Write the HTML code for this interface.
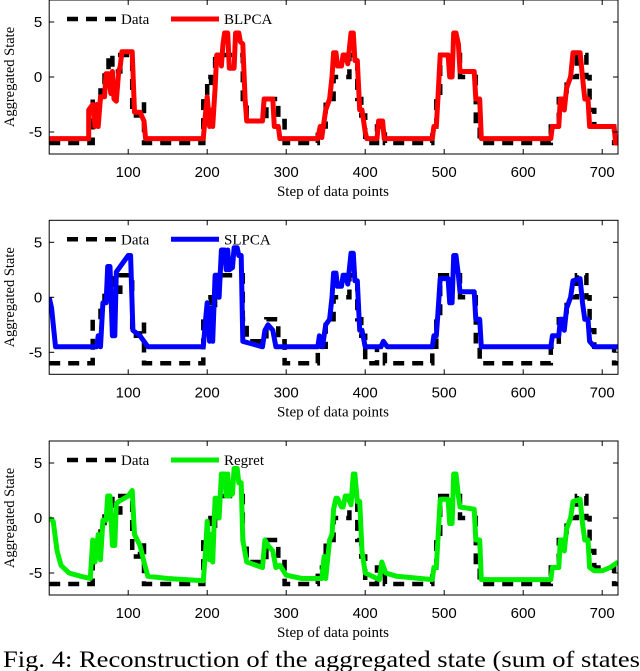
<!DOCTYPE html>
<html><head><meta charset="utf-8">
<style>
html,body{margin:0;padding:0;background:#fff;width:640px;height:671px;overflow:hidden}
svg{display:block}
</style></head>
<body>
<svg id="fig" width="640" height="671" viewBox="0 0 640 671" xmlns="http://www.w3.org/2000/svg">
<text x="3" y="667" font-family="Liberation Serif, serif" font-size="23" textLength="637" lengthAdjust="spacingAndGlyphs">Fig. 4: Reconstruction of the aggregated state (sum of states</text>
</svg>
<script>
// Shared ground-truth data series
const dataX = [0,55,55,65,65,70,70,75,75,80,80,90,90,105,105,115,115,120,120,195,195,200,200,205,205,210,210,245,245,250,250,275,275,290,290,298,298,340,340,350,350,360,360,380,380,390,390,395,395,400,400,415,415,425,425,485,485,490,490,495,495,520,520,540,540,545,545,635,635,645,645,655,655,668,668,680,680,684,684,690,690,715,715,720];
const dataY = [-6,-6,-2,-2,-1,-1,0.5,0.5,2,2,0.5,0.5,2,2,-3.5,-3.5,-2.5,-2.5,-6,-6,-2,-2,0,0,-1,-1,2,2,-2,-2,-4,-4,-2,-2,-4,-4,-6,-6,-4.5,-4.5,-2,-2,0,0,2,2,-2,-2,-3.5,-3.5,-6,-6,-4.5,-4.5,-6,-6,-4.5,-4.5,-2,-2,2,2,0,0,-4,-4,-6,-6,-4.5,-4.5,-2,-2,0,0,2,2,0,0,-3,-3,-4.5,-4.5,-6,-6];

// BLPCA
const blX = [0,50,50,55,58,60,62,65,70,72, 75,78,80,82,85,88,90,92,105,108, 115,120,122,195,197,200,203,205,207,210, 212,215,218,220,222,226,228,234,236,240, 242,245,248,250,270,272,283,285,290,292, 340,343,345,347,350,355,358,360,363,365, 370,372,375,378,382,385,387,390,393,396, 400,402,415,417,422,424,485,487,490,492, 495,505,507,510,512,515,518,520,538,540, 545,547,635,637,645,647,650,652,655,660, 663,672,675,678,682,684,715,717,720];
const blY = [-5.6,-5.6,-3,-2.5,-4.5,-2.5,-4.5,-1.8,-1.8,0.3, 0.3,-1.5,0.5,-2,-2.2,0.5,1,2.3,2.3,-3.2, -3.2,-4,-5.6,-5.6,-4,-1.8,-4.5,-3,-4.5,-1, 2,2,1,3,4,4,0.8,0.8,4,4, 3.2,3,-2,-4,-4,-2,-2,-4.5,-4.5,-5.6, -5.6,-4.5,-5.5,-4.5,-3,-2,0,2.2,2.2,1, 1,2,2,1.2,4,4,1.5,1.5,-3,-3, -5,-5.6,-5.6,-4,-4,-5.6,-5.6,-4.5,-4.5,-2, 2,2,0,0,4,4,3,0.5,0.5,-2, -2,-5.6,-5.6,-4.5,-4.5,-2,-2,-3,-1,0, 2.2,2.2,0,-2,-2,-4.5,-4.5,-6,-6];

// SLPCA
const slX = [0,3,8,60,62,65,68,72,74,77, 80,83,85,100,103,106,115,120,125,195, 198,200,203,205,207,210,213,215,218,222, 224,226,228,232,234,238,240,243,245,270, 273,277,283,287,340,342,346,350,355,358, 360,363,365,370,372,375,378,382,385,387, 390,393,396,400,420,423,428,485,487,490, 492,495,505,507,510,512,515,518,520,538, 540,545,547,635,637,645,647,650,652,655, 660,663,672,675,678,682,684,690,700,720];
const slY = [0,-1,-4.5,-4.5,-3.5,-4.5,-0.5,-0.5,2.8,2.8, -3.5,-3.5,2.3,3.8,3.8,-3,-3.5,-4,-4.5,-4.5, -2,-0.5,-4,-1,-4,2,2,0,4.3,4.3, 2.5,4.3,2.5,2.7,4.5,4.5,3.8,3.8,-4,-4.5, -3,-2.5,-3,-4.5,-4.5,-3.5,-4.5,-2.5,-2,0, 2.2,2.2,1,1,2,2,1.2,4,4,1.5, 1.5,-3,-3,-4.5,-4.5,-4,-4.5,-4.5,-3.5,-3.5, -1.5,1.7,1.7,-0.5,-0.5,3.8,3.8,2,0.5,0.5, -2,-2,-4.5,-4.5,-3.5,-3.5,-2,-2,-3,-1, 0,1.5,1.7,-0.5,-2,-2,-4,-4.5,-4.5,-4.5];

// Regret
const rgX = [0,5,10,15,25,40,52,55,58,62, 65,68,72,74,77,80,83,85,88,100, 105,108,115,120,125,150,195,198,200,203, 205,207,210,213,215,218,222,224,226,228, 232,234,238,240,243,245,250,270,273,277, 283,287,292,300,320,345,348,350,355,358, 360,363,365,370,372,375,378,382,385,387, 390,393,396,400,418,421,426,440,485,487, 490,492,495,505,507,510,512,515,518,520, 538,540,545,547,635,637,645,647,650,652, 655,660,663,672,675,678,682,684,690,700, 710,720];
const rgY = [0,-0.3,-3,-4.3,-5,-5.3,-5.5,-2,-4,-1.5, -3.8,-0.2,-0.2,2,2,-2.5,-2.5,1.3,1.5,2, 2.5,-1.5,-2.5,-4,-5.3,-5.5,-5.7,-3,-0.3,-3.8, -1.5,-4,1.8,1.8,0,4,4,2,4,2, 2.2,4.5,4.5,3.2,3.2,-2,-4,-4.5,-2,-2.5, -3,-4.5,-4.3,-5.2,-5.5,-5.5,-3.5,-5.5,-2,-1.5, 0.8,1.8,1.8,1,1,2,2,1.2,4,4, 1.5,1.5,-3,-5,-5.6,-4,-5,-5.3,-5.6,-4.5, -4.5,-2,1.7,1.7,-0.5,-0.5,4,4,2,1, 0.8,-2,-2,-5.6,-5.6,-4.5,-4.5,-2,-2,-3, -1,0,1.5,1.7,-0.5,-2,-2,-4.5,-4.8,-4.8, -4.5,-4];

const xTicks = [100,200,300,400,500,600,700];
const yTicks = [-5,0,5];
const xDomain = [0,720];
const yDomain = [-7,7];

const svg = document.getElementById('fig');
const NS = 'http://www.w3.org/2000/svg';
const L = 49.2, R = 618, H = 154;
function xs(v){ return L + (v - xDomain[0]) / (xDomain[1]-xDomain[0]) * (R - L); }
function mk(tag, attrs){ const e = document.createElementNS(NS, tag); for (const k in attrs) e.setAttribute(k, attrs[k]); return e; }
function pts(X, Y, ys){ const n = Math.min(X.length, Y.length); const out = []; for (let i=0;i<n;i++) out.push(xs(X[i]).toFixed(1)+','+ys(Y[i]).toFixed(1)); return out.join(' '); }

const panels = [
  {top:0, name:'BLPCA', color:'#ff0000', X:blX, Y:blY, key:'blpca'},
  {top:220.3, name:'SLPCA', color:'#0000ff', X:slX, Y:slY, key:'slpca'},
  {top:441, name:'Regret', color:'#00ee00', X:rgX, Y:rgY, key:'regret'}
];

panels.forEach(p => {
  const T = p.top;
  const ys = v => T + (yDomain[1] - v) / (yDomain[1]-yDomain[0]) * H;
  const g = mk('g', {});
  
  
  svg.appendChild(g);
  const clipId = 'clip-' + p.key;
  const cp = mk('clipPath', {id: clipId});
  cp.appendChild(mk('rect', {x:L, y:T, width:R-L, height:H}));
  g.appendChild(cp);

  const dl = mk('polyline', {points: pts(dataX, dataY, ys), fill:'none', stroke:'#000', 'stroke-width':4.5, 'stroke-dasharray':'11,8', 'clip-path':'url(#'+clipId+')'});
  
  
  g.appendChild(dl);
  const sl = mk('polyline', {points: pts(p.X, p.Y, ys), fill:'none', stroke:p.color, 'stroke-width':5, 'stroke-linejoin':'round', 'clip-path':'url(#'+clipId+')'});
  
  
  g.appendChild(sl);

  const box = mk('rect', {x:L, y:T, width:R-L, height:H, fill:'none', stroke:'#000', 'stroke-width':1});
  
  
  g.appendChild(box);

  xTicks.forEach(t => {
    const x = xs(t);
    g.appendChild(mk('line', {x1:x, x2:x, y1:T+H, y2:T+H-5, stroke:'#000', 'stroke-width':1}));
    g.appendChild(mk('line', {x1:x, x2:x, y1:T, y2:T+5, stroke:'#000', 'stroke-width':1}));
    const tl = mk('text', {x:x, y:T+H+23, 'text-anchor':'middle', 'font-family':'Liberation Sans, sans-serif', 'font-size':15});
    tl.textContent = t;
    
    
    g.appendChild(tl);
  });
  yTicks.forEach(t => {
    const y = ys(t);
    g.appendChild(mk('line', {x1:L, x2:L+5, y1:y, y2:y, stroke:'#000', 'stroke-width':1}));
    g.appendChild(mk('line', {x1:R, x2:R-5, y1:y, y2:y, stroke:'#000', 'stroke-width':1}));
    const tl = mk('text', {x:L-7, y:y+5, 'text-anchor':'end', 'font-family':'Liberation Sans, sans-serif', 'font-size':15});
    tl.textContent = t;
    
    
    g.appendChild(tl);
  });

  const xt = mk('text', {x:333, y:T+H+42, 'text-anchor':'middle', 'font-family':'Liberation Serif, serif', 'font-size':15});
  xt.textContent = 'Step of data points';
  
  
  g.appendChild(xt);
  const yt = mk('text', {x:0, y:0, 'text-anchor':'middle', 'font-family':'Liberation Serif, serif', 'font-size':14.5, transform:'translate(14,'+(T+77)+') rotate(-90)'});
  yt.textContent = 'Aggregated State';
  
  
  g.appendChild(yt);

  // legend
  const ly = T + 19;
  const lg = mk('g', {});
  
  
  g.appendChild(lg);
  lg.appendChild(mk('line', {x1:67, x2:117, y1:ly, y2:ly, stroke:'#000', 'stroke-width':4.5, 'stroke-dasharray':'11,8'}));
  const t1 = mk('text', {x:121, y:ly+5, 'font-family':'Liberation Serif, serif', 'font-size':15});
  t1.textContent = 'Data';
  
  
  lg.appendChild(t1);
  lg.appendChild(mk('line', {x1:171, x2:219, y1:ly, y2:ly, stroke:p.color, 'stroke-width':5}));
  const t2 = mk('text', {x:224, y:ly+5, 'font-family':'Liberation Serif, serif', 'font-size':15});
  t2.textContent = p.name;
  
  
  lg.appendChild(t2);
});
</script>
</body></html>
